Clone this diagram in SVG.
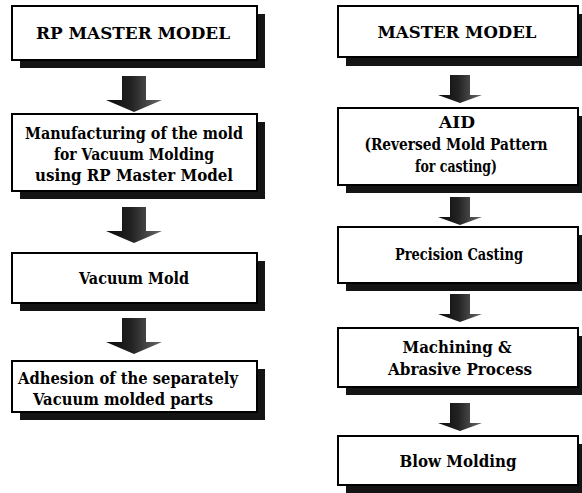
<svg xmlns="http://www.w3.org/2000/svg" width="582" height="493" viewBox="0 0 582 493">
  <defs>
    <linearGradient id="arrowFill" x1="0" y1="0" x2="1" y2="0">
      <stop offset="0" stop-color="#0a0a0a"/>
      <stop offset="0.45" stop-color="#222"/>
      <stop offset="1" stop-color="#6a6a6a"/>
    </linearGradient>
    <path id="arrowL" d="M-12,0 H12 V24 H28 L0,36 L-28,24 H-12 Z"/>
    <path id="arrowR" d="M-10,0 H10 V20 H22 L0,28 L-22,20 H-10 Z"/>
  </defs>
  <style>
    .shadow { fill: #141414; }
    .box { fill: #ffffff; stroke: #000000; stroke-width: 2; }
    .label { font-family: "DejaVu Serif", "Liberation Serif", serif; font-weight: bold; font-size: 17px; fill: #000000; text-anchor: middle; }
    .arrow { fill: url(#arrowFill); }
  </style>
  <rect width="582" height="493" fill="#ffffff"/>

  <!-- left column -->
  <g id="rp-master-model">
    <rect class="shadow" x="20" y="60" width="245" height="8"/>
    <rect class="shadow" x="257" y="14" width="8" height="54"/>
    <rect class="box" x="12" y="6" width="245" height="54"/>
    <text class="label" x="133" y="39" textLength="194" lengthAdjust="spacingAndGlyphs">RP MASTER MODEL</text>
  </g>
  <g id="mold-manufacturing">
    <rect class="shadow" x="20" y="191" width="245" height="8"/>
    <rect class="shadow" x="257" y="122" width="8" height="77"/>
    <rect class="box" x="12" y="114" width="245" height="77"/>
    <text class="label" x="134" y="139" textLength="218" lengthAdjust="spacingAndGlyphs">Manufacturing of the mold</text>
    <text class="label" x="134" y="160" textLength="160" lengthAdjust="spacingAndGlyphs">for Vacuum Molding</text>
    <text class="label" x="134" y="181" textLength="198" lengthAdjust="spacingAndGlyphs">using RP Master Model</text>
  </g>
  <g id="vacuum-mold">
    <rect class="shadow" x="20" y="303" width="245" height="8"/>
    <rect class="shadow" x="257" y="261" width="8" height="50"/>
    <rect class="box" x="12" y="253" width="245" height="50"/>
    <text class="label" x="134" y="284" textLength="110" lengthAdjust="spacingAndGlyphs">Vacuum Mold</text>
  </g>
  <g id="adhesion">
    <rect class="shadow" x="20" y="412" width="245" height="8"/>
    <rect class="shadow" x="257" y="369" width="8" height="51"/>
    <rect class="box" x="12" y="361" width="245" height="51"/>
    <text class="label" x="128" y="384" textLength="220" lengthAdjust="spacingAndGlyphs">Adhesion of the separately</text>
    <text class="label" x="123" y="405" textLength="180" lengthAdjust="spacingAndGlyphs">Vacuum molded parts</text>
  </g>

  <!-- right column -->
  <g id="master-model">
    <rect class="shadow" x="346" y="57" width="240" height="9"/>
    <rect class="shadow" x="578" y="14" width="8" height="52"/>
    <rect class="box" x="338" y="6" width="240" height="51"/>
    <text class="label" x="457" y="38" textLength="159" lengthAdjust="spacingAndGlyphs">MASTER MODEL</text>
  </g>
  <g id="aid">
    <rect class="shadow" x="346" y="185" width="240" height="8"/>
    <rect class="shadow" x="578" y="116" width="8" height="77"/>
    <rect class="box" x="338" y="108" width="240" height="77"/>
    <text class="label" x="457" y="128" textLength="36" lengthAdjust="spacingAndGlyphs">AID</text>
    <text class="label" transform="translate(456,150) scale(0.81,1)" x="0" y="0">(Reversed Mold Pattern</text>
    <text class="label" x="456" y="172" textLength="82" lengthAdjust="spacingAndGlyphs">for casting)</text>
  </g>
  <g id="precision-casting">
    <rect class="shadow" x="346" y="283" width="240" height="8"/>
    <rect class="shadow" x="578" y="235" width="8" height="56"/>
    <rect class="box" x="338" y="227" width="240" height="56"/>
    <text class="label" x="459" y="260" textLength="128" lengthAdjust="spacingAndGlyphs">Precision Casting</text>
  </g>
  <g id="machining">
    <rect class="shadow" x="346" y="387" width="240" height="8"/>
    <rect class="shadow" x="578" y="336" width="8" height="59"/>
    <rect class="box" x="338" y="328" width="240" height="59"/>
    <text class="label" x="457" y="353" textLength="109" lengthAdjust="spacingAndGlyphs">Machining &amp;</text>
    <text class="label" x="460" y="375" textLength="144" lengthAdjust="spacingAndGlyphs">Abrasive Process</text>
  </g>
  <g id="blow-molding">
    <rect class="shadow" x="346" y="485" width="240" height="8"/>
    <rect class="shadow" x="578" y="444" width="8" height="49"/>
    <rect class="box" x="338" y="436" width="240" height="49"/>
    <text class="label" x="458" y="467" textLength="117" lengthAdjust="spacingAndGlyphs">Blow Molding</text>
  </g>

  <!-- connectors -->
  <g id="connectors">
    <use href="#arrowL" class="arrow" x="134" y="76"/>
    <use href="#arrowL" class="arrow" x="134" y="207"/>
    <use href="#arrowL" class="arrow" x="134" y="318"/>
    <use href="#arrowR" class="arrow" x="460" y="75"/>
    <use href="#arrowR" class="arrow" x="460" y="197"/>
    <use href="#arrowR" class="arrow" x="460" y="294"/>
    <use href="#arrowR" class="arrow" x="460" y="403"/>
  </g>
</svg>
